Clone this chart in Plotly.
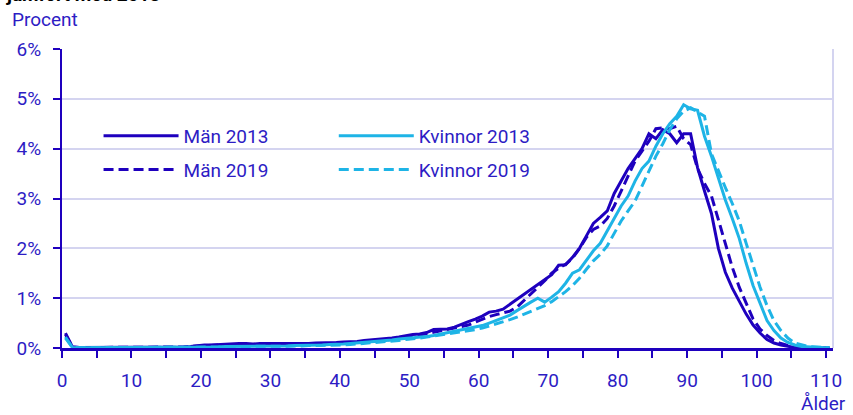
import plotly.graph_objects as go

ages = list(range(0, 111))

man_2013 = [0.30, 0.02] + [0.01] * 15 + [
    0.02, 0.03, 0.05, 0.06, 0.06, 0.07, 0.07, 0.08, 0.09, 0.09,          # 17-26
    0.08, 0.09, 0.09, 0.09, 0.08, 0.08, 0.08, 0.09, 0.09, 0.10,          # 27-36
    0.10, 0.10, 0.11, 0.12, 0.12, 0.13, 0.15, 0.16, 0.17, 0.19,          # 37-46
    0.20, 0.22, 0.25, 0.27, 0.28, 0.31, 0.37, 0.37, 0.38, 0.42,          # 47-56
    0.48, 0.53, 0.58, 0.64, 0.72, 0.74, 0.78, 0.88, 0.98, 1.08,          # 57-66
    1.18, 1.28, 1.37, 1.47, 1.66, 1.67, 1.82, 2.00, 2.25, 2.50,          # 67-76
    2.62, 2.75, 3.10, 3.35, 3.60, 3.80, 4.00, 4.30, 4.20, 4.38,          # 77-86
    4.30, 4.12, 4.30, 4.30, 3.62, 3.15, 2.70, 2.00, 1.52, 1.20,          # 87-96
    0.93, 0.68, 0.46, 0.30, 0.17, 0.10, 0.06, 0.03, 0.01, 0.01,          # 97-106
    0.0, 0.0, 0.0, 0.0]                                                  # 107-110

man_2019 = [0.27, 0.02] + [0.01] * 15 + [
    0.02, 0.03, 0.04, 0.05, 0.06, 0.06, 0.06, 0.07, 0.07, 0.07,          # 17-26
    0.07, 0.07, 0.07, 0.07, 0.07, 0.08, 0.08, 0.08, 0.08, 0.08,          # 27-36
    0.09, 0.09, 0.09, 0.09, 0.10, 0.11, 0.12, 0.13, 0.14, 0.15,          # 37-46
    0.17, 0.19, 0.22, 0.24, 0.26, 0.29, 0.32, 0.35, 0.37, 0.40,          # 47-56
    0.43, 0.46, 0.52, 0.58, 0.63, 0.67, 0.71, 0.74, 0.82, 0.95,          # 57-66
    1.08, 1.20, 1.35, 1.50, 1.60, 1.68, 1.80, 2.00, 2.22, 2.38,          # 67-76
    2.45, 2.60, 2.85, 3.15, 3.45, 3.75, 3.95, 4.15, 4.40, 4.42,          # 77-86
    4.40, 4.45, 4.20, 4.08, 3.60, 3.30, 3.05, 2.57, 2.05, 1.62,          # 87-96
    1.22, 0.88, 0.58, 0.38, 0.25, 0.15, 0.09, 0.05, 0.03, 0.01,          # 97-106
    0.005, 0.0, 0.0, 0.0]                                                # 107-110

kvinnor_2013 = [0.22, 0.01] + [0.005] * 15 + [
    0.01, 0.02, 0.02, 0.02, 0.02, 0.02, 0.03, 0.03, 0.03, 0.03,          # 17-26
    0.03, 0.03, 0.04, 0.04, 0.04, 0.04, 0.05, 0.05, 0.05, 0.06,          # 27-36
    0.06, 0.07, 0.07, 0.08, 0.09, 0.10, 0.11, 0.12, 0.13, 0.15,          # 37-46
    0.16, 0.18, 0.19, 0.20, 0.22, 0.23, 0.25, 0.28, 0.31, 0.34,          # 47-56
    0.36, 0.39, 0.42, 0.45, 0.50, 0.55, 0.60, 0.66, 0.75, 0.84,          # 57-66
    0.92, 1.00, 0.92, 1.02, 1.13, 1.30, 1.50, 1.57, 1.75, 1.95,          # 67-76
    2.10, 2.35, 2.62, 2.85, 3.05, 3.35, 3.60, 3.75, 4.05, 4.30,          # 77-86
    4.50, 4.65, 4.88, 4.80, 4.77, 4.25, 3.85, 3.40, 2.97, 2.60,          # 87-96
    2.20, 1.70, 1.25, 0.90, 0.55, 0.35, 0.20, 0.11, 0.06, 0.03,          # 97-106
    0.02, 0.01, 0.005, 0.0]                                              # 107-110

kvinnor_2019 = [0.20, 0.01] + [0.005] * 15 + [
    0.01, 0.01, 0.02, 0.02, 0.02, 0.02, 0.02, 0.03, 0.03, 0.03,          # 17-26
    0.03, 0.03, 0.03, 0.04, 0.04, 0.04, 0.04, 0.04, 0.05, 0.05,          # 27-36
    0.05, 0.06, 0.06, 0.06, 0.07, 0.08, 0.09, 0.10, 0.11, 0.12,          # 37-46
    0.14, 0.15, 0.17, 0.18, 0.20, 0.22, 0.24, 0.26, 0.28, 0.30,          # 47-56
    0.32, 0.34, 0.37, 0.40, 0.44, 0.48, 0.52, 0.57, 0.62, 0.68,          # 57-66
    0.74, 0.80, 0.85, 0.93, 1.03, 1.13, 1.25, 1.40, 1.58, 1.75,          # 67-76
    1.88, 2.05, 2.30, 2.55, 2.75, 2.95, 3.25, 3.55, 3.85, 4.10,          # 77-86
    4.38, 4.60, 4.75, 4.82, 4.73, 4.65, 3.90, 3.55, 3.22, 2.90,          # 87-96
    2.55, 2.10, 1.65, 1.22, 0.85, 0.55, 0.35, 0.20, 0.10, 0.06,          # 97-106
    0.03, 0.02, 0.01, 0.005]                                             # 107-110

tick_labels = ["0", "", "10", "", "20", "", "30", "", "40", "", "50", "",
               "60", "", "70", "", "80", "", "90", "", "100", "", "110"]
tick_ages = list(range(0, 111, 5))
y_ticks = [0, 1, 2, 3, 4, 5, 6]
y_tick_labels = ["0%", "1%", "2%", "3%", "4%", "5%", "6%"]

DARK = "#1e00be"
LIGHT = "#1eb4e6"
TEXT = "#2d1cc4"
GRID = "#d4d4f0"
FONT = "Roboto"

series = [
    ("Män 2013", man_2013, DARK, "solid", "legend"),
    ("Män 2019", man_2019, DARK, "10px,5px", "legend"),
    ("Kvinnor 2013", kvinnor_2013, LIGHT, "solid", "legend2"),
    ("Kvinnor 2019", kvinnor_2019, LIGHT, "10px,5px", "legend2"),
]

fig = go.Figure()
for name, vals, col, dash, lg in series:
    fig.add_trace(go.Scatter(
        x=ages, y=vals, mode="lines", name=name,
        line=dict(color=col, width=3, dash=dash),
        legend=lg, legendgroup=name,
    ))

legend_style = dict(
    font=dict(family=FONT, size=19, color=TEXT),
    bgcolor="rgba(0,0,0,0)", borderwidth=0,
    itemwidth=75, tracegroupgap=6,
    xanchor="left", yanchor="top", orientation="v",
)

fig.update_layout(
    width=853, height=415,
    margin=dict(l=62, r=20, t=49, b=67),
    paper_bgcolor="white", plot_bgcolor="white",
    font=dict(family=FONT, size=19, color=TEXT),
    showlegend=True,
    legend=dict(x=0.0474, y=0.773, **legend_style),
    legend2=dict(x=0.3525, y=0.773, **legend_style),
    xaxis=dict(
        range=[-0.5, 110.5],
        tickmode="array",
        tickvals=[a - 0.5 for a in tick_ages],
        ticktext=tick_labels,
        showgrid=False, zeroline=False,
        showline=True, linecolor=DARK, linewidth=3,
        ticks="outside", ticklen=7, tickwidth=2, tickcolor=DARK,
        tickfont=dict(family=FONT, size=19, color=TEXT),
        ticklabelstandoff=6,
        automargin=False,
    ),
    yaxis=dict(
        range=[0, 6],
        tickmode="array", tickvals=y_ticks, ticktext=y_tick_labels,
        showgrid=True, gridcolor=GRID, gridwidth=2,
        zeroline=False,
        showline=True, linecolor=DARK, linewidth=2,
        ticks="outside", ticklen=7, tickwidth=2, tickcolor=DARK,
        tickfont=dict(family=FONT, size=19, color=TEXT),
        ticklabelstandoff=8,
        automargin=False,
    ),
    shapes=[dict(type="line", xref="paper", yref="paper", x0=1, x1=1, y0=0, y1=1,
                 line=dict(color=GRID, width=2), layer="below")],
    annotations=[
        dict(text="<b>jämfört med 2013</b>", xref="paper", yref="paper",
             x=-0.075, y=1.136, xanchor="left", yanchor="bottom", showarrow=False,
             font=dict(family=FONT, size=19, color="#000000")),
        dict(text="Procent", xref="paper", yref="paper",
             x=-0.068, y=1.097, xanchor="left", yanchor="middle", showarrow=False,
             font=dict(family=FONT, size=19, color=TEXT)),
        dict(text="Ålder", xref="paper", yref="paper",
             x=1.0195, y=-0.184, xanchor="right", yanchor="middle", showarrow=False,
             font=dict(family=FONT, size=19, color=TEXT)),
    ],
)

fig.write_html("out.html", config={"displayModeBar": False},
               post_script="document.body.style.margin='0';")
